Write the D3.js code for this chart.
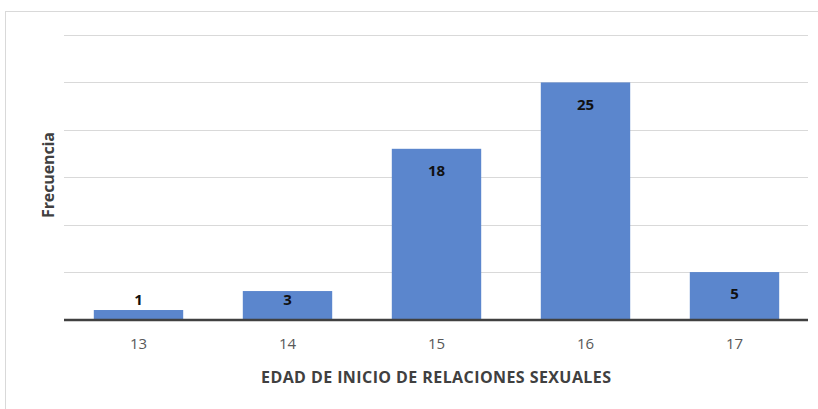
<!DOCTYPE html>
<html lang="es">
  <head>
    <meta charset="UTF-8" />
    <title>Edad de inicio</title>
    <script src="https://cdn.jsdelivr.net/npm/d3@7"></script>
    <style>
      body { margin: 0; background: #fff; }
      svg { display: block; }
    </style>
  </head>
  <body>
    <svg width="818" height="409"></svg>
    <script>
      // datos
      const edades = ["13", "14", "15", "16", "17"];
      const frecuencias = [1, 3, 18, 25, 5];
      const gridTicks = [0, 5, 10, 15, 20, 25, 30];

      const svg = d3.select("svg");
      const font = "'Open Sans', sans-serif";

      // marco exterior
      svg.append("rect")
        .attr("x", 5.5).attr("y", 11.5)
        .attr("width", 900).attr("height", 600)
        .attr("fill", "none")
        .attr("stroke", "#d9d9d9");

      const x = d3.scaleBand().domain(edades).range([64, 809])
        .paddingInner(0.4).paddingOuter(0.2);
      const y = d3.scaleLinear().domain([0, 30]).range([319.5, 35]);

      // lineas de cuadricula
      svg.append("g").selectAll("line")
        .data(gridTicks.filter(d => d > 0))
        .join("line")
        .attr("x1", 64).attr("x2", 808)
        .attr("y1", d => Math.round(y(d)) + 0.5)
        .attr("y2", d => Math.round(y(d)) + 0.5)
        .attr("stroke", "#d9d9d9");

      // barras
      svg.append("g").selectAll("rect")
        .data(frecuencias)
        .join("rect")
        .attr("x", (d, i) => x(edades[i]))
        .attr("y", d => y(d))
        .attr("width", x.bandwidth())
        .attr("height", d => y(0) - y(d))
        .attr("fill", "#5b86cd");

      // etiquetas de datos
      svg.append("g").selectAll("text")
        .data(frecuencias)
        .join("text")
        .attr("x", (d, i) => x(edades[i]) + x.bandwidth() / 2)
        .attr("y", d => Math.min(y(d) + 22, y(0) - 20))
        .attr("dy", "0.35em")
        .attr("text-anchor", "middle")
        .attr("font-family", font)
        .attr("font-weight", 700)
        .attr("font-size", 15)
        .attr("fill", "#111")
        .text(d => d);

      // eje x
      const xAxis = d3.axisBottom(x).tickSize(0).tickPadding(19);
      const gx = svg.append("g")
        .attr("transform", `translate(0,${y(0)})`)
        .call(xAxis);
      gx.select(".domain").remove();
      gx.selectAll("text")
        .attr("font-family", font)
        .attr("font-size", 15)
        .attr("fill", "#595959");

      svg.append("line")
        .attr("x1", 64).attr("x2", 808)
        .attr("y1", y(0) + 0.5).attr("y2", y(0) + 0.5)
        .attr("stroke", "#404040")
        .attr("stroke-width", 2.5);

      // titulos
      svg.append("text")
        .attr("x", 436).attr("y", 377)
        .attr("dy", "0.35em")
        .attr("text-anchor", "middle")
        .attr("font-family", font)
        .attr("font-weight", 700)
        .attr("font-size", 16)
        .attr("textLength", 350)
        .attr("lengthAdjust", "spacing")
        .attr("fill", "#404040")
        .text("EDAD DE INICIO DE RELACIONES SEXUALES");

      svg.append("text")
        .attr("transform", "translate(48,175) rotate(-90)")
        .attr("dy", "0.35em")
        .attr("text-anchor", "middle")
        .attr("font-family", font)
        .attr("font-weight", 700)
        .attr("font-size", 16)
        .attr("textLength", 86)
        .attr("lengthAdjust", "spacing")
        .attr("fill", "#404040")
        .text("Frecuencia");
    </script>
  </body>
</html>
